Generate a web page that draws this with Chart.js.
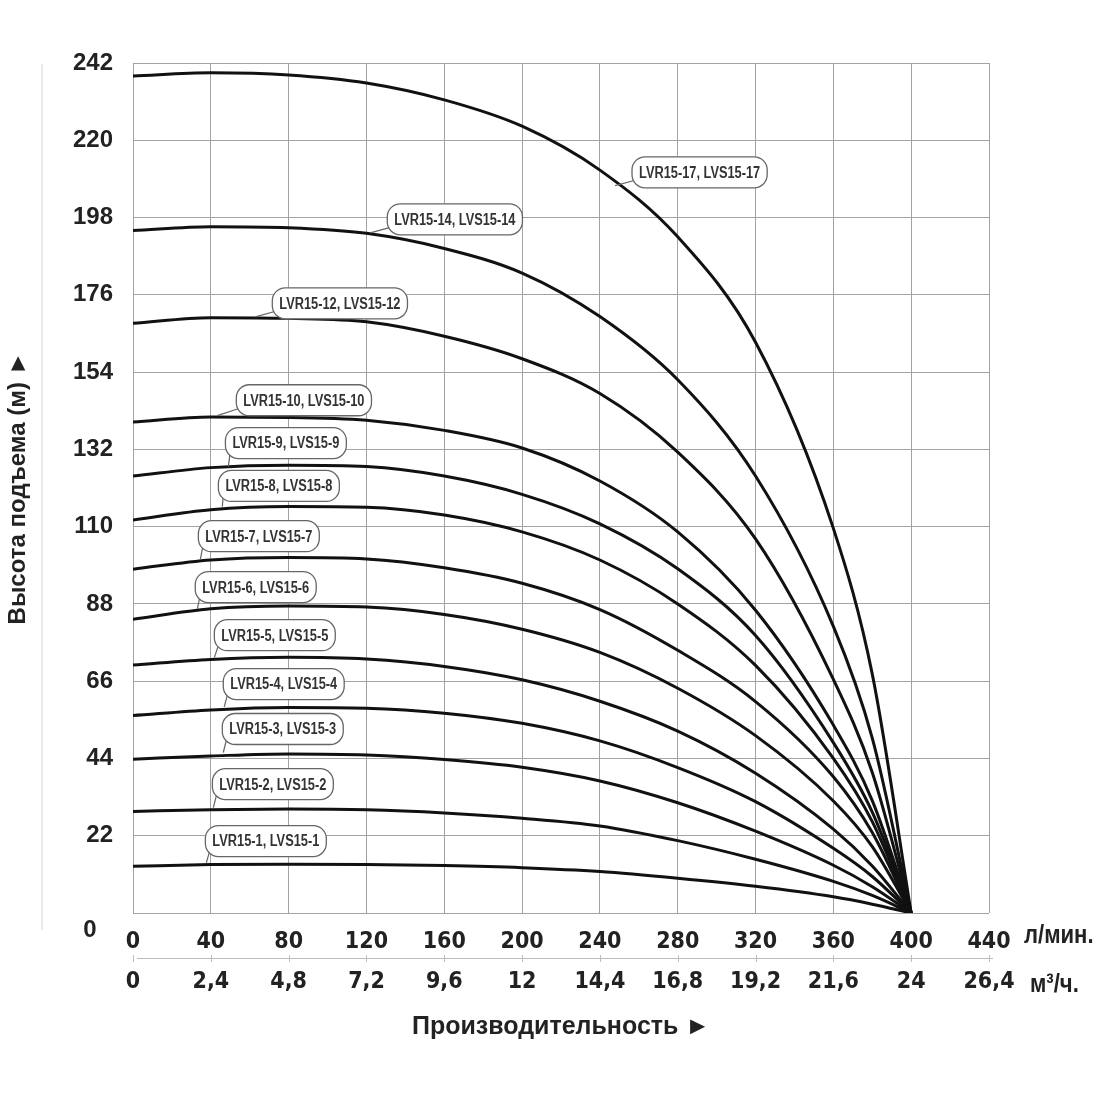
<!DOCTYPE html>
<html>
<head>
<meta charset="utf-8">
<script src="https://cdn.jsdelivr.net/npm/chart.js@4.4.1/dist/chart.umd.min.js"></script>
<style>
  html, body { margin: 0; padding: 0; background: #fff; }
  #wrap { width: 1100px; height: 1100px; }
</style>
</head>
<body>
<div id="wrap"><canvas id="pumpChart" width="1100" height="1100"></canvas></div>
<script>
// подача, л/мин (точки кривых)
const flowPoints = [0, 40, 80, 120, 160, 200, 240, 280, 320, 360, 380, 400];

// напор, м — по кривым
const head1  = [13.3, 13.8, 13.9, 13.8, 13.5, 12.9, 11.8, 9.9, 7.6, 4.6, 2.5, 0];
const head2  = [28.9, 29.4, 29.6, 29.4, 28.5, 27.0, 24.8, 20.6, 15.3, 9.0, 5.0, 0];
const head3  = [43.8, 44.7, 45.3, 45.0, 43.7, 41.5, 37.6, 31.4, 23.3, 13.6, 7.5, 0];
const head4  = [56.2, 57.8, 58.5, 58.3, 56.9, 54.0, 49.0, 41.4, 31.7, 18.4, 10.4, 0];
const head5  = [70.6, 72.2, 72.8, 72.3, 70.2, 66.4, 60.3, 51.8, 39.8, 23.9, 13.4, 0];
const head6  = [83.6, 86.6, 87.4, 87.1, 85.0, 80.8, 74.2, 64.0, 50.5, 31.9, 18.9, 0];
const head7  = [97.9, 100.5, 101.2, 100.8, 98.3, 93.9, 86.4, 74.8, 60.2, 38.8, 22.9, 0];
const head8  = [111.9, 114.8, 115.7, 115.5, 113.3, 108.5, 100.5, 88.0, 70.5, 44.0, 26.0, 0];
const head9  = [124.4, 126.8, 127.5, 127.1, 124.4, 119.2, 110.8, 98.0, 79.0, 48.5, 28.7, 0];
const head10 = [139.8, 141.2, 141.1, 140.3, 137.4, 132.4, 123.0, 108.5, 86.2, 53.5, 32.0, 0];
const head12 = [167.9, 169.5, 169.3, 168.3, 164.2, 157.8, 147.9, 131.2, 106.5, 66.5, 40.0, 0];
const head14 = [194.3, 195.4, 195.1, 193.5, 189.2, 182.2, 169.8, 151.8, 124.4, 81.6, 49.8, 0];
const head17 = [238.3, 239.2, 238.6, 236.3, 231.5, 224.0, 211.5, 192.5, 162.5, 109.5, 68.0, 0];

const pumpNames = [
  'LVR15-1, LVS15-1', 'LVR15-2, LVS15-2', 'LVR15-3, LVS15-3', 'LVR15-4, LVS15-4',
  'LVR15-5, LVS15-5', 'LVR15-6, LVS15-6', 'LVR15-7, LVS15-7', 'LVR15-8, LVS15-8',
  'LVR15-9, LVS15-9', 'LVR15-10, LVS15-10', 'LVR15-12, LVS15-12', 'LVR15-14, LVS15-14',
  'LVR15-17, LVS15-17'
];
const pumpHeads = [head1, head2, head3, head4, head5, head6, head7, head8, head9, head10, head12, head14, head17];

// подписи осей
const flowTickLmin = ['0', '40', '80', '120', '160', '200', '240', '280', '320', '360', '400', '440'];
const flowTickM3h = ['0', '2,4', '4,8', '7,2', '9,6', '12', '14,4', '16,8', '19,2', '21,6', '24', '26,4'];
const headTicks = ['0', '22', '44', '66', '88', '110', '132', '154', '176', '198', '220', '242'];

// выноски: левый верх рамки и конец указателя (в единицах осей)
const calloutBoxX = [37.2, 40.8, 45.9, 46.4, 41.8, 32.0, 33.6, 43.9, 47.5, 53.1, 71.6, 130.7, 256.5];
const calloutBoxY = [24.9, 41.1, 56.8, 69.6, 83.5, 97.2, 111.7, 126.0, 138.2, 150.4, 178.0, 201.9, 215.3];
const calloutTipX = [37.7, 41.3, 46.4, 46.9, 41.8, 33.1, 34.6, 45.9, 49.0, 43.3, 62.9, 122.4, 247.8];
const calloutTipY = [14.3, 30.0, 45.7, 58.7, 72.7, 86.6, 100.6, 115.7, 127.1, 141.6, 169.7, 193.7, 207.1];

const SANS = "'Liberation Sans', Arial, sans-serif";
const NARROW = "'DejaVu Sans Condensed', 'Liberation Sans', Arial, sans-serif";

function roundRect(ctx, x, y, w, h, r) {
  ctx.beginPath();
  ctx.moveTo(x + r, y);
  ctx.lineTo(x + w - r, y);
  ctx.arcTo(x + w, y, x + w, y + r, r);
  ctx.lineTo(x + w, y + h - r);
  ctx.arcTo(x + w, y + h, x + w - r, y + h, r);
  ctx.lineTo(x + r, y + h);
  ctx.arcTo(x, y + h, x, y + h - r, r);
  ctx.lineTo(x, y + r);
  ctx.arcTo(x, y, x + r, y, r);
  ctx.closePath();
}

// узкий текст: обычный шрифт, сжатый по ширине
function narrowText(ctx, text, x, y, squeeze) {
  ctx.save();
  ctx.translate(x, y);
  ctx.scale(squeeze, 1);
  ctx.fillText(text, 0, 0);
  ctx.restore();
}

const extrasPlugin = {
  id: 'extras',
  afterDraw(chart) {
    const ctx = chart.ctx;
    const xs = chart.scales.x;
    const ys = chart.scales.y;
    ctx.save();

    // бледная линия слева
    ctx.strokeStyle = '#e2e2e2';
    ctx.lineWidth = 1.5;
    ctx.beginPath();
    ctx.moveTo(42, 64);
    ctx.lineTo(42, 930);
    ctx.stroke();

    // разделитель между шкалами л/мин и м3/ч
    ctx.strokeStyle = '#bdbdbd';
    ctx.lineWidth = 1;
    ctx.beginPath();
    ctx.moveTo(137, 958.5);
    ctx.lineTo(993, 958.5);
    xs.ticks.forEach(t => {
      const px = Math.round(xs.getPixelForValue(t.value)) + 0.5;
      ctx.moveTo(px, 955);
      ctx.lineTo(px, 962);
    });
    ctx.stroke();

    // единицы и ноль оси напора
    ctx.fillStyle = '#222';
    ctx.textBaseline = 'middle';
    ctx.textAlign = 'left';
    ctx.font = 'bold 26px ' + SANS;
    narrowText(ctx, 'л/мин.', 1024, 936, 0.85);
    narrowText(ctx, 'м³/ч.', 1030, 985, 0.85);
    ctx.textAlign = 'center';
    ctx.font = 'bold 24px ' + SANS;
    ctx.fillText(headTicks[0], 90, 930);

    // выноски с названиями насосов
    ctx.font = 'bold 16px ' + SANS;
    ctx.textAlign = 'left';
    const squeeze = 0.8;
    pumpNames.forEach((name, i) => {
      const bx = xs.getPixelForValue(calloutBoxX[i]);
      const by = ys.getPixelForValue(calloutBoxY[i]);
      const tx = xs.getPixelForValue(calloutTipX[i]);
      const ty = ys.getPixelForValue(calloutTipY[i]);
      const w = ctx.measureText(name).width * squeeze + 14;
      const h = 31;
      ctx.strokeStyle = '#666';
      ctx.lineWidth = 1.2;
      ctx.beginPath();
      ctx.moveTo(bx + 5, by + h - 8);
      ctx.lineTo(tx, ty);
      ctx.stroke();
      roundRect(ctx, bx, by, w, h, 13);
      ctx.fillStyle = '#fff';
      ctx.fill();
      ctx.lineWidth = 1.3;
      ctx.stroke();
      ctx.fillStyle = '#333';
      narrowText(ctx, name, bx + 7, by + h / 2 + 1, squeeze);
    });
    ctx.restore();
  }
};

const datasets = pumpHeads.map((heads, i) => ({
  label: pumpNames[i],
  data: flowPoints.map((q, j) => ({ x: q, y: heads[j] })),
  borderColor: '#111',
  borderWidth: 3,
  pointRadius: 0,
  fill: false,
  cubicInterpolationMode: 'monotone'
}));

new Chart(document.getElementById('pumpChart'), {
  type: 'line',
  data: { datasets: datasets },
  options: {
    responsive: false,
    animation: false,
    devicePixelRatio: 1,
    layout: { padding: { top: 63, right: 111, bottom: 0, left: 0 } },
    plugins: { legend: { display: false }, tooltip: { enabled: false } },
    scales: {
      x: {
        type: 'linear',
        min: 0,
        max: 440,
        afterFit: s => { s.height = 187; },
        grid: { color: '#a3a3a3', lineWidth: 1, drawTicks: false },
        border: { display: false },
        ticks: {
          stepSize: 40,
          autoSkip: false,
          maxRotation: 0,
          padding: 9,
          color: '#222',
          font: { family: NARROW, size: 23, weight: 'bold', lineHeight: 1.74 },
          callback: (v, i) => [flowTickLmin[i], flowTickM3h[i]]
        },
        title: {
          display: true,
          text: 'Производительность ►',
          color: '#222',
          font: { family: SANS, size: 25, weight: 'bold' },
          padding: { top: 0, bottom: 58 }
        }
      },
      y: {
        min: 0,
        max: 242,
        afterFit: s => { s.width = 133; },
        grid: { color: '#a3a3a3', lineWidth: 1, drawTicks: false },
        border: { display: false },
        ticks: {
          stepSize: 22,
          padding: 20,
          color: '#222',
          font: { family: SANS, size: 24, weight: 'bold' },
          callback: (v, i) => (i === 0 ? '' : headTicks[i])
        },
        title: {
          display: true,
          text: 'Высота подъема (м) ►',
          color: '#222',
          font: { family: SANS, size: 24, weight: 'bold' },
          padding: { top: 4, bottom: 0 }
        }
      }
    }
  },
  plugins: [extrasPlugin]
});
</script>
</body>
</html>
